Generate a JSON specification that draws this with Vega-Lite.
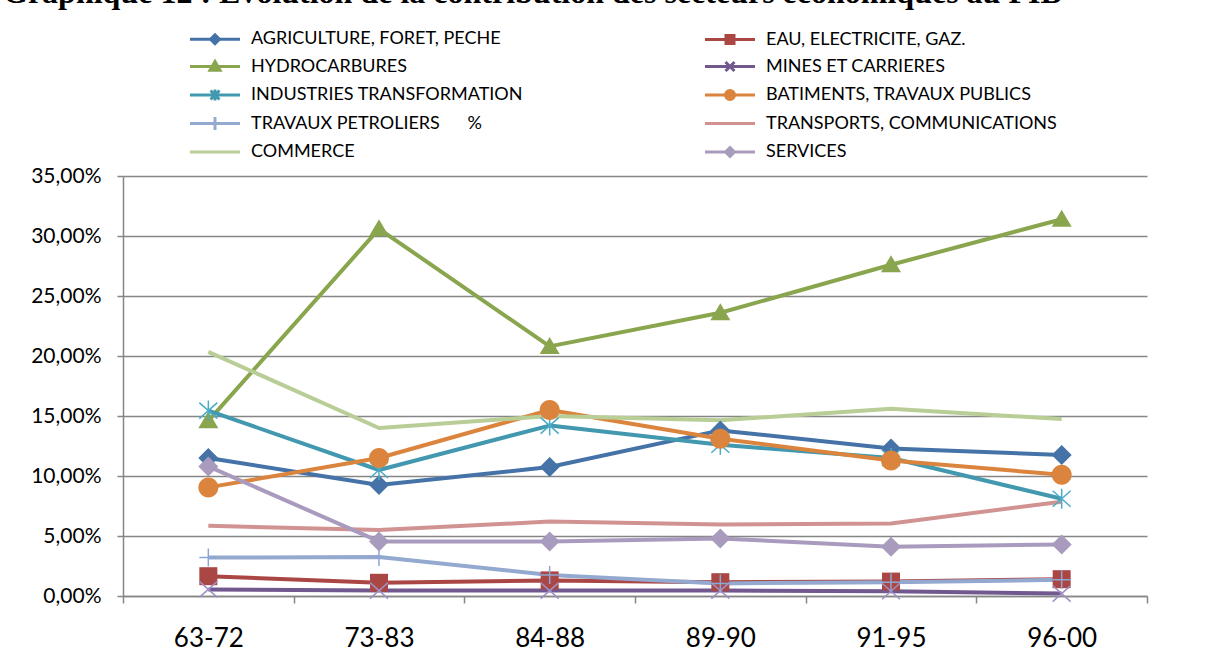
{
  "$schema": "https://vega.github.io/schema/vega-lite/v6.json",
  "width": 1024,
  "height": 420,
  "autosize": {"type": "none"},
  "padding": {"left": 123, "top": 176, "right": 83, "bottom": 66},
  "background": "white",
  "title": {
    "text": "Graphique 12 : Evolution de la contribution des secteurs économiques au PIB",
    "anchor": "start",
    "frame": "group",
    "dx": -120,
    "dy": 6,
    "offset": 0,
    "font": "Liberation Serif",
    "fontSize": 32,
    "fontWeight": "bold",
    "color": "black",
    "baseline": "alphabetic"
  },
  "data": {
    "values": [
      {"periode": "63-72", "secteur": "AGRICULTURE, FORET, PECHE", "part": 0.115},
      {"periode": "73-83", "secteur": "AGRICULTURE, FORET, PECHE", "part": 0.0925},
      {"periode": "84-88", "secteur": "AGRICULTURE, FORET, PECHE", "part": 0.1075},
      {"periode": "89-90", "secteur": "AGRICULTURE, FORET, PECHE", "part": 0.138},
      {"periode": "91-95", "secteur": "AGRICULTURE, FORET, PECHE", "part": 0.123},
      {"periode": "96-00", "secteur": "AGRICULTURE, FORET, PECHE", "part": 0.1175},
      {"periode": "63-72", "secteur": "EAU, ELECTRICITE,  GAZ.", "part": 0.0165},
      {"periode": "73-83", "secteur": "EAU, ELECTRICITE,  GAZ.", "part": 0.011},
      {"periode": "84-88", "secteur": "EAU, ELECTRICITE,  GAZ.", "part": 0.013},
      {"periode": "89-90", "secteur": "EAU, ELECTRICITE,  GAZ.", "part": 0.0115},
      {"periode": "91-95", "secteur": "EAU, ELECTRICITE,  GAZ.", "part": 0.012},
      {"periode": "96-00", "secteur": "EAU, ELECTRICITE,  GAZ.", "part": 0.014},
      {"periode": "63-72", "secteur": "HYDROCARBURES", "part": 0.146},
      {"periode": "73-83", "secteur": "HYDROCARBURES", "part": 0.306},
      {"periode": "84-88", "secteur": "HYDROCARBURES", "part": 0.208},
      {"periode": "89-90", "secteur": "HYDROCARBURES", "part": 0.236},
      {"periode": "91-95", "secteur": "HYDROCARBURES", "part": 0.276},
      {"periode": "96-00", "secteur": "HYDROCARBURES", "part": 0.314},
      {"periode": "63-72", "secteur": "MINES ET CARRIERES", "part": 0.0055},
      {"periode": "73-83", "secteur": "MINES ET CARRIERES", "part": 0.0045},
      {"periode": "84-88", "secteur": "MINES ET CARRIERES", "part": 0.0045},
      {"periode": "89-90", "secteur": "MINES ET CARRIERES", "part": 0.0045},
      {"periode": "91-95", "secteur": "MINES ET CARRIERES", "part": 0.004},
      {"periode": "96-00", "secteur": "MINES ET CARRIERES", "part": 0.002},
      {"periode": "63-72", "secteur": "INDUSTRIES TRANSFORMATION", "part": 0.1545},
      {"periode": "73-83", "secteur": "INDUSTRIES TRANSFORMATION", "part": 0.105},
      {"periode": "84-88", "secteur": "INDUSTRIES TRANSFORMATION", "part": 0.142},
      {"periode": "89-90", "secteur": "INDUSTRIES TRANSFORMATION", "part": 0.126},
      {"periode": "91-95", "secteur": "INDUSTRIES TRANSFORMATION", "part": 0.115},
      {"periode": "96-00", "secteur": "INDUSTRIES TRANSFORMATION", "part": 0.081},
      {"periode": "63-72", "secteur": "BATIMENTS, TRAVAUX PUBLICS", "part": 0.0905},
      {"periode": "73-83", "secteur": "BATIMENTS, TRAVAUX PUBLICS", "part": 0.115},
      {"periode": "84-88", "secteur": "BATIMENTS, TRAVAUX PUBLICS", "part": 0.155},
      {"periode": "89-90", "secteur": "BATIMENTS, TRAVAUX PUBLICS", "part": 0.131},
      {"periode": "91-95", "secteur": "BATIMENTS, TRAVAUX PUBLICS", "part": 0.113},
      {"periode": "96-00", "secteur": "BATIMENTS, TRAVAUX PUBLICS", "part": 0.101},
      {"periode": "63-72", "secteur": "TRAVAUX PETROLIERS\u00a0\u00a0\u00a0\u00a0\u00a0\u00a0%", "part": 0.032},
      {"periode": "73-83", "secteur": "TRAVAUX PETROLIERS\u00a0\u00a0\u00a0\u00a0\u00a0\u00a0%", "part": 0.0325},
      {"periode": "84-88", "secteur": "TRAVAUX PETROLIERS\u00a0\u00a0\u00a0\u00a0\u00a0\u00a0%", "part": 0.0175},
      {"periode": "89-90", "secteur": "TRAVAUX PETROLIERS\u00a0\u00a0\u00a0\u00a0\u00a0\u00a0%", "part": 0.0105},
      {"periode": "91-95", "secteur": "TRAVAUX PETROLIERS\u00a0\u00a0\u00a0\u00a0\u00a0\u00a0%", "part": 0.0115},
      {"periode": "96-00", "secteur": "TRAVAUX PETROLIERS\u00a0\u00a0\u00a0\u00a0\u00a0\u00a0%", "part": 0.0135},
      {"periode": "63-72", "secteur": "TRANSPORTS, COMMUNICATIONS", "part": 0.0585},
      {"periode": "73-83", "secteur": "TRANSPORTS, COMMUNICATIONS", "part": 0.055},
      {"periode": "84-88", "secteur": "TRANSPORTS, COMMUNICATIONS", "part": 0.062},
      {"periode": "89-90", "secteur": "TRANSPORTS, COMMUNICATIONS", "part": 0.0595},
      {"periode": "91-95", "secteur": "TRANSPORTS, COMMUNICATIONS", "part": 0.0605},
      {"periode": "96-00", "secteur": "TRANSPORTS, COMMUNICATIONS", "part": 0.0785},
      {"periode": "63-72", "secteur": "COMMERCE", "part": 0.2035},
      {"periode": "73-83", "secteur": "COMMERCE", "part": 0.14},
      {"periode": "84-88", "secteur": "COMMERCE", "part": 0.15},
      {"periode": "89-90", "secteur": "COMMERCE", "part": 0.1465},
      {"periode": "91-95", "secteur": "COMMERCE", "part": 0.156},
      {"periode": "96-00", "secteur": "COMMERCE", "part": 0.1475},
      {"periode": "63-72", "secteur": "SERVICES", "part": 0.108},
      {"periode": "73-83", "secteur": "SERVICES", "part": 0.0455},
      {"periode": "84-88", "secteur": "SERVICES", "part": 0.0455},
      {"periode": "89-90", "secteur": "SERVICES", "part": 0.048},
      {"periode": "91-95", "secteur": "SERVICES", "part": 0.041},
      {"periode": "96-00", "secteur": "SERVICES", "part": 0.043}
    ]
  },
  "encoding": {
    "x": {
      "field": "periode",
      "type": "ordinal",
      "sort": ["63-72", "73-83", "84-88", "89-90", "91-95", "96-00"],
      "scale": {"type": "band", "paddingInner": 0, "paddingOuter": 0},
      "axis": {
        "title": null,
        "labelAngle": 0,
        "tickBand": "extent",
        "tickSize": 7,
        "tickColor": "#868686",
        "tickWidth": 1.5,
        "domainColor": "#868686",
        "domainWidth": 1.5,
        "labelFont": "Lato",
        "labelFontSize": 26,
        "labelColor": "black",
        "labelPadding": 22,
        "grid": false
      }
    },
    "y": {
      "field": "part",
      "type": "quantitative",
      "scale": {"domain": [0, 0.35], "nice": false, "zero": true},
      "axis": {
        "title": null,
        "values": [0, 0.05, 0.1, 0.15, 0.2, 0.25, 0.3, 0.35],
        "labelExpr": "replace(format(datum.value, '.2%'), '.', ',')",
        "tickSize": 6,
        "tickColor": "#868686",
        "tickWidth": 1.5,
        "domainColor": "#868686",
        "domainWidth": 1.5,
        "gridColor": "#868686",
        "gridWidth": 1.4,
        "labelFont": "Lato",
        "labelFontSize": 21,
        "labelColor": "black",
        "labelPadding": 16
      }
    }
  },
  "layer": [
    {
      "mark": {"type": "line", "strokeWidth": 4, "strokeJoin": "round"},
      "encoding": {
        "color": {
          "field": "secteur",
          "type": "nominal",
          "scale": {
            "domain": ["AGRICULTURE, FORET, PECHE", "EAU, ELECTRICITE,  GAZ.", "HYDROCARBURES", "MINES ET CARRIERES", "INDUSTRIES TRANSFORMATION", "BATIMENTS, TRAVAUX PUBLICS", "TRAVAUX PETROLIERS\u00a0\u00a0\u00a0\u00a0\u00a0\u00a0%", "TRANSPORTS, COMMUNICATIONS", "COMMERCE", "SERVICES"],
            "range": ["#4572A7", "#AA4643", "#89A54E", "#71588F", "#4198AF", "#DB843D", "#93A9CF", "#D19392", "#B9CD96", "#A99BBD"]
          },
          "legend": {
            "orient": "none",
            "legendX": 67,
            "legendY": -147,
            "direction": "horizontal",
            "columns": 2,
            "gridAlign": "all",
            "columnPadding": 157,
            "rowPadding": 2.5,
            "padding": 0,
            "title": null,
            "symbolSize": 100,
            "symbolOffset": 16,
            "symbolStrokeWidth": 3,
            "labelOffset": 27,
            "labelFont": "Lato",
            "labelFontSize": 18,
            "labelColor": "black",
            "labelLimit": 500,
            "encode": {
              "symbols": {
                "update": {
                  "shape": {"signal": "['M-5,0H5M0,-0.9L0.9,0L0,0.9L-0.9,0Z','M-5,0H5M-0.8,-0.8H0.8V0.8H-0.8Z','M-5,0H5M0,-1L1,0.75H-1Z','M-5,0H5M-0.9,-0.9L0.9,0.9M-0.9,0.9L0.9,-0.9','M-5,0H5M-0.9,-0.9L0.9,0.9M-0.9,0.9L0.9,-0.9M0,-1.1V1.1','M-5,0H5M-0.9,0A0.9,0.9,0,1,0,0.9,0A0.9,0.9,0,1,0,-0.9,0Z','M-5,0H5M0,-1.3V1.3','M-5,0H5','M-5,0H5','M-5,0H5M0,-0.9L0.9,0L0,0.9L-0.9,0Z'][indexof(domain('color'), datum.value)]"},
                  "fill": {"signal": "scale('color', datum.value)"},
                  "stroke": {"signal": "scale('color', datum.value)"},
                  "strokeWidth": {"value": 3},
                  "opacity": {"value": 1}
                }
              }
            }
          }
        }
      }
    },
    {
      "transform": [{"filter": {"field": "secteur", "equal": "AGRICULTURE, FORET, PECHE"}}],
      "mark": {"type": "point", "shape": "M0,-1L1,0L0,1L-1,0Z", "filled": true, "size": 400, "opacity": 1, "strokeWidth": 0, "color": "#4572A7"}
    },
    {
      "transform": [{"filter": {"field": "secteur", "equal": "EAU, ELECTRICITE,  GAZ."}}],
      "mark": {"type": "point", "shape": "M-0.9,-0.9H0.9V0.9H-0.9Z", "filled": true, "size": 400, "opacity": 1, "strokeWidth": 0, "color": "#AA4643"}
    },
    {
      "transform": [{"filter": {"field": "secteur", "equal": "HYDROCARBURES"}}],
      "mark": {"type": "point", "shape": "M0,-0.95L1,0.75H-1Z", "filled": true, "size": 400, "opacity": 1, "strokeWidth": 0, "color": "#89A54E"}
    },
    {
      "transform": [{"filter": {"field": "secteur", "equal": "MINES ET CARRIERES"}}],
      "mark": {"type": "point", "shape": "M-0.9,-0.8L0.9,0.8M-0.9,0.8L0.9,-0.8", "filled": false, "size": 400, "opacity": 1, "strokeWidth": 1.5, "color": "#A08FC4"}
    },
    {
      "transform": [{"filter": {"field": "secteur", "equal": "INDUSTRIES TRANSFORMATION"}}],
      "mark": {"type": "point", "shape": "M-0.9,-0.8L0.9,0.8M-0.9,0.8L0.9,-0.8M0,-1V1", "filled": false, "size": 400, "opacity": 1, "strokeWidth": 1.5, "color": "#4BACC6"}
    },
    {
      "transform": [{"filter": {"field": "secteur", "equal": "BATIMENTS, TRAVAUX PUBLICS"}}],
      "mark": {"type": "point", "shape": "M-1,0A1,1,0,1,0,1,0A1,1,0,1,0,-1,0Z", "filled": true, "size": 400, "opacity": 1, "strokeWidth": 0, "color": "#DB843D"}
    },
    {
      "transform": [{"filter": {"field": "secteur", "equal": "TRAVAUX PETROLIERS\u00a0\u00a0\u00a0\u00a0\u00a0\u00a0%"}}],
      "mark": {"type": "point", "shape": "M-0.9,0H0.9M0,-0.9V0.9", "filled": false, "size": 400, "opacity": 1, "strokeWidth": 1.5, "color": "#8EA6D4"}
    },
    {
      "transform": [{"filter": {"field": "secteur", "equal": "SERVICES"}}],
      "mark": {"type": "point", "shape": "M0,-1L1,0L0,1L-1,0Z", "filled": true, "size": 400, "opacity": 1, "strokeWidth": 0, "color": "#A99BBD"}
    }
  ],
  "config": {
    "view": {"stroke": null}
  }
}
